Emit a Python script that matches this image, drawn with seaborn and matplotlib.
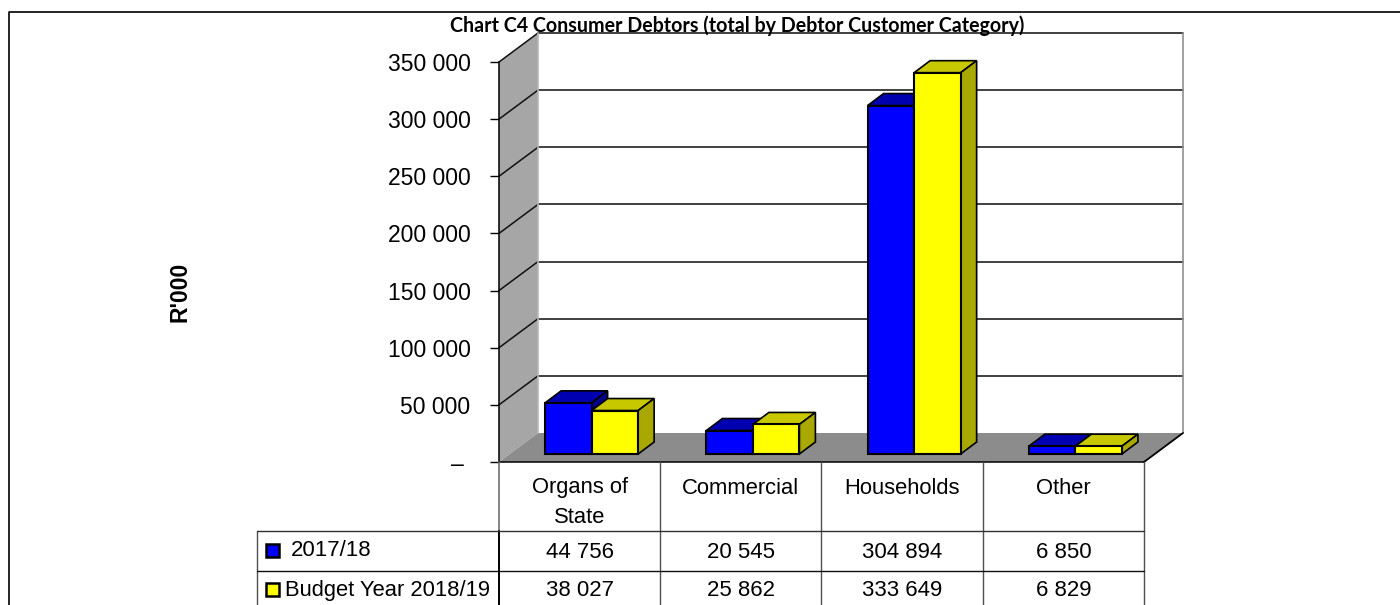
import matplotlib
matplotlib.use("Agg")
import matplotlib.pyplot as plt
import pandas as pd
import seaborn as sns
from matplotlib.lines import Line2D
from matplotlib.patches import Polygon, Rectangle
from matplotlib.ticker import FuncFormatter
from matplotlib.transforms import Affine2D, IdentityTransform

categories = ["Organs of\nState", "Commercial", "Households", "Other"]
series_names = ["2017/18", "Budget Year 2018/19"]
values_2017 = [44756, 20545, 304894, 6850]
values_2018 = [38027, 25862, 333649, 6829]
y_ticks = [0, 50000, 100000, 150000, 200000, 250000, 300000, 350000]

W, H = 1400, 605
FRONT = "#0000ff", "#ffff00"
TOPS = "#0000b0", "#c8c800"
SIDES = "#00008c", "#a8a800"
BODY_FONT = "Liberation Sans"

sns.set_theme(style="white")
plt.rcParams["font.family"] = [BODY_FONT, "DejaVu Sans"]

fig = plt.figure(figsize=(14, 6.05), dpi=100, facecolor="white")
ax = fig.add_axes([499 / W, (H - 462) / H, 645 / W, 400 / H])
ax.patch.set_alpha(0)

frame = pd.DataFrame({
    "category": categories * 2,
    "series": [series_names[0]] * 4 + [series_names[1]] * 4,
    "value": values_2017 + values_2018,
})
sns.barplot(data=frame, x="category", y="value", hue="series", order=categories,
            hue_order=series_names, palette=list(FRONT), saturation=1, width=0.577,
            gap=0, edgecolor="black", linewidth=1.5, legend=False, ax=ax)
ax.set_xlim(-0.5, 3.5)
ax.set_ylim(0, 350000)
fig.canvas.draw()


def to_px(x, y):
    return ax.transData.transform((x, y))


def shifted(point, dx, dy):
    return (point[0] + dx, point[1] + dy)


# Perspective box: depth of the walls and floor, in pixels
WALL_DX, WALL_DY = 39, 29
x0, x1 = ax.get_xlim()
p00, p10 = to_px(x0, 0), to_px(x1, 0)
p01 = to_px(x0, 350000)
px_identity = IdentityTransform()

ax.add_patch(Polygon([p00, p01, shifted(p01, WALL_DX, WALL_DY - 0.5), shifted(p00, WALL_DX, WALL_DY)],
                     closed=True, fc="#a6a6a6", ec="none", transform=px_identity, clip_on=False, zorder=1))
ax.add_patch(Polygon([p00, p10, shifted(p10, WALL_DX, WALL_DY), shifted(p00, WALL_DX, WALL_DY)],
                     closed=True, fc="#8c8c8c", ec="none", transform=px_identity, clip_on=False, zorder=1))

# Gridlines run along the back wall and fold down the side wall
for tick in y_ticks:
    front = to_px(x0, tick)
    back_l = shifted(front, WALL_DX, WALL_DY)
    back_r = shifted(to_px(x1, tick), WALL_DX, WALL_DY)
    if tick > 0:
        ax.add_artist(Line2D([back_l[0], back_r[0]], [back_l[1], back_r[1]], color="#202020", lw=1.2,
                             transform=px_identity, clip_on=False, zorder=1.5))
        ax.add_artist(Line2D([front[0], back_l[0]], [front[1], back_l[1]], color="#101010", lw=1.1,
                             transform=px_identity, clip_on=False, zorder=1.5))
back_top = shifted(p01, WALL_DX, WALL_DY)
back_bottom = shifted(p00, WALL_DX, WALL_DY)
ax.add_artist(Line2D([back_top[0], back_bottom[0]], [back_top[1], back_bottom[1]], color="#b8b8b8", lw=1.2,
                     transform=px_identity, clip_on=False, zorder=1.6))
right_top = shifted(to_px(x1, 350000), WALL_DX, WALL_DY)
right_bottom = shifted(p10, WALL_DX, WALL_DY)
ax.add_artist(Line2D([right_top[0], right_bottom[0]], [right_top[1], right_bottom[1]], color="#909090", lw=1.2,
                     transform=px_identity, clip_on=False, zorder=1.6))
ax.add_artist(Line2D([p10[0], right_bottom[0]], [p10[1], right_bottom[1]], color="black", lw=1.3,
                     transform=px_identity, clip_on=False, zorder=1.7))

# Extrude each seaborn bar: shift it onto the floor, then add its top and side faces
BAR_DX, BAR_DY = 12, 8
DEPTH_DX, DEPTH_DY = 16, 12
lift = Affine2D().translate(BAR_DX, BAR_DY)
for s, container in enumerate(ax.containers):
    for b, bar in enumerate(container):
        level = 3 + s * 0.1
        bl = shifted(to_px(bar.get_x(), 0), BAR_DX, BAR_DY)
        br = shifted(to_px(bar.get_x() + bar.get_width(), 0), BAR_DX, BAR_DY)
        tl = shifted(to_px(bar.get_x(), bar.get_height()), BAR_DX, BAR_DY)
        tr = shifted(to_px(bar.get_x() + bar.get_width(), bar.get_height()), BAR_DX, BAR_DY)
        ax.add_patch(Polygon([tl, tr, shifted(tr, DEPTH_DX, DEPTH_DY), shifted(tl, DEPTH_DX, DEPTH_DY)],
                             closed=True, fc=TOPS[s], ec="black", lw=1.2, transform=px_identity,
                             clip_on=False, zorder=level))
        ax.add_patch(Polygon([br, tr, shifted(tr, DEPTH_DX, DEPTH_DY), shifted(br, DEPTH_DX, DEPTH_DY)],
                             closed=True, fc=SIDES[s], ec="black", lw=1.2, transform=px_identity,
                             clip_on=False, zorder=level))
        bar.set_transform(ax.transData + lift)
        bar.set_clip_on(False)
        bar.set_zorder(level + 0.05)

# Value axis
ax.set_yticks(y_ticks)
ax.yaxis.set_major_formatter(FuncFormatter(
    lambda v, _: "– " if v == 0 else f"{int(v):,}".replace(",", " ")))
ax.tick_params(axis="y", left=True, length=6.5, width=1, color="black", pad=14, labelsize=16.5, labelcolor="black")
ax.set_xticks([])
ax.set_xlabel("")
ax.set_ylabel("")
for name, spine in ax.spines.items():
    spine.set_visible(name in ("left", "bottom"))
    spine.set_color("black")
    spine.set_linewidth(1.1)
    spine.set_zorder(2)


def fig_line(xs, ys, color="black", lw=1.0):
    fig.add_artist(Line2D([x / W for x in xs], [1 - y / H for y in ys], color=color, lw=lw))


def fig_text(x, y, text, **kw):
    kw.setdefault("ha", "center")
    kw.setdefault("va", "center")
    kw.setdefault("color", "black")
    fig.text(x / W, 1 - y / H, text, **kw)


# Outer frame of the sheet
fig_line([9, 9, W], [H, 12, 12], lw=1.2)

# Data table under the plot
col_edges = [499 + 645 * i / 4 for i in range(5)]
ROW_TOP, ROW_MID, HEADER_TOP = 531, 570.5, 462
for edge in col_edges[1:]:
    fig_line([edge, edge], [HEADER_TOP, H], color="#505050")
fig_line([499, 499], [HEADER_TOP, ROW_TOP], color="#707070", lw=1.2)
fig_line([499, 499], [ROW_TOP, H], lw=1.4)
fig_line([257, 257], [ROW_TOP, H], color="#505050")
fig_line([257, 1144], [ROW_TOP, ROW_TOP], color="#303030")
fig_line([257, 1144], [ROW_MID, ROW_MID], color="#101010")

for i, name in enumerate(categories):
    centre = (col_edges[i] + col_edges[i + 1]) / 2
    fig_text(centre, 502.5 if "\n" in name else 488.5, name, fontsize=15.8, linespacing=1.55)
    for row_y, vals in ((552, values_2017), (591, values_2018)):
        fig_text(centre, row_y, f"{vals[i]:,}".replace(",", " "), fontsize=16)

fig_text(291, 551, series_names[0], ha="left", fontsize=16)
fig_text(285, 590.5, series_names[1], ha="left", fontsize=15.8)
for s, key_y in enumerate((550, 589)):
    fig.add_artist(Rectangle((266 / W, 1 - (key_y + 6.5) / H), 13 / W, 13 / H, fc=FRONT[s], ec="black",
                             lw=1.8, transform=fig.transFigure))

fig_text(180, 292, "R'000", rotation=90, fontsize=16.5, fontweight="bold")
fig_text(737, 26, "Chart C4 Consumer Debtors (total by Debtor Customer Category)",
         fontsize=14.1, fontweight="bold", family=["Lato", "DejaVu Sans"], zorder=20)

fig.savefig("out.png", dpi=100)
